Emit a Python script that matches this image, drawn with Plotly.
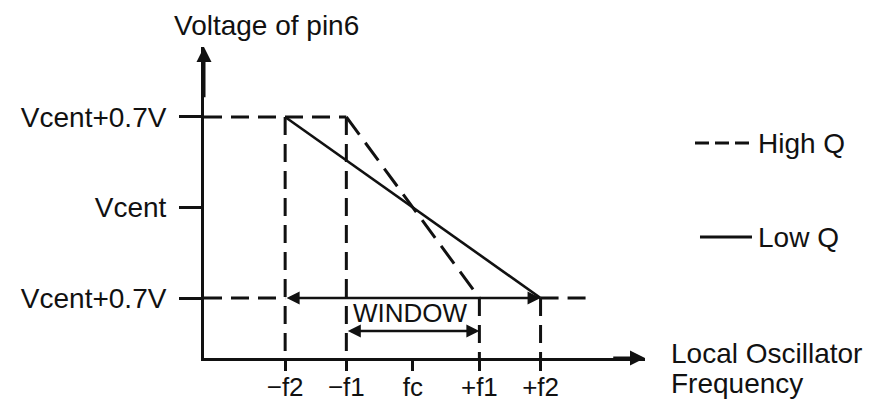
import plotly.graph_objects as go

# Frequency axis: positions of the marked frequencies (fc at 0, f1 as unit)
freq_ticks = [-1.92, -1.0, 0.0, 1.0, 1.92]
freq_labels = ["−f2", "−f1", "fc", "+f1", "+f2"]

# Voltage axis: pin 6 voltage relative to Vcent
volt_ticks = [0.7, 0.0, -0.7]
volt_labels = ["Vcent+0.7V", "Vcent", "Vcent+0.7V"]

# Transfer characteristics
high_q_x = [-1.0, 1.0]
high_q_y = [0.7, -0.7]
low_q_x = [-1.92, 1.92]
low_q_y = [0.7, -0.7]

# Window edges (±f1) and capture range (±f2)
window_x = [-1.0, 1.0]
capture_x = [-1.92, 1.92]

x_range = [-3.14, 3.49]
y_range = [-1.164, 1.241]
guide_end_x = 2.69
window_y = -0.955

FONT = "Liberation Sans"
INK = "#111111"
DASH = "18px,9px"
TXT = 28

fig = go.Figure()


def seg(xs, ys, dash=None, width=3):
    fig.add_trace(go.Scatter(
        x=xs, y=ys, mode="lines", showlegend=False, hoverinfo="skip",
        line=dict(color=INK, width=width, dash=dash),
    ))


# Dashed level guides
seg([x_range[0], high_q_x[0]], [volt_ticks[0], volt_ticks[0]], DASH)
seg([x_range[0], capture_x[0]], [volt_ticks[2], volt_ticks[2]], DASH)
seg([capture_x[1], guide_end_x], [volt_ticks[2], volt_ticks[2]], DASH)

# Dashed frequency drop lines
for fx in (capture_x[0], window_x[0]):
    seg([fx, fx], [volt_ticks[0], y_range[0]], DASH)
for fx in (window_x[1], capture_x[1]):
    seg([fx, fx], [volt_ticks[2], y_range[0]], DASH)

# High Q (dashed) and Low Q (solid) slopes
seg(high_q_x, high_q_y, "22px,10px", 3)
seg(low_q_x, low_q_y, None, 2.6)

annotations = []

# Capture range arrow along the lower level
annotations.append(dict(
    x=capture_x[1], y=volt_ticks[2], ax=capture_x[0], ay=volt_ticks[2],
    xref="x", yref="y", axref="x", ayref="y", text="", showarrow=True,
    arrowhead=2, arrowside="end+start", arrowsize=1, arrowwidth=2.6,
    arrowcolor=INK,
))

# WINDOW arrow between ±f1
annotations.append(dict(
    x=window_x[1], y=window_y, ax=window_x[0], ay=window_y,
    xref="x", yref="y", axref="x", ayref="y", text="", showarrow=True,
    arrowhead=2, arrowside="end+start", arrowsize=1, arrowwidth=2.6,
    arrowcolor=INK,
))
annotations.append(dict(
    x=sum(window_x) / 2 - 0.04, y=-0.815, xref="x", yref="y", text="WINDOW",
    showarrow=False, font=dict(family=FONT, size=26, color=INK),
))

# Axis arrowheads
annotations.append(dict(
    x=x_range[1], y=y_range[0], ax=x_range[1] - 0.5, ay=y_range[0],
    xref="x", yref="y", axref="x", ayref="y", text="", showarrow=True,
    arrowhead=2, arrowsize=1, arrowwidth=3, arrowcolor=INK,
))
annotations.append(dict(
    x=x_range[0], y=y_range[1], ax=x_range[0], ay=y_range[1] - 0.4,
    xref="x", yref="y", axref="x", ayref="y", text="", showarrow=True,
    arrowhead=2, arrowsize=1, arrowwidth=3, arrowcolor=INK,
))

# Axis titles
annotations.append(dict(
    x=-0.0726, y=1.0707, xref="paper", yref="paper", xanchor="left",
    yanchor="middle", text="Voltage of pin6", showarrow=False,
    font=dict(family=FONT, size=TXT, color=INK),
))
for line_text, yp in (("Local Oscillator", 0.016), ("Frequency", -0.0804)):
    annotations.append(dict(
        x=1.0544, y=yp, xref="paper", yref="paper", xanchor="left",
        yanchor="middle", align="left", text=line_text,
        showarrow=False, font=dict(family=FONT, size=TXT, color=INK),
    ))

# Legend keys
shapes = []
legend_items = [("High Q", "14px,6px", 1.1134, 0.6913),
                ("Low Q", None, 1.1247, 0.389)]
for name, dash, x0, yk in legend_items:
    shapes.append(dict(
        type="line", xref="paper", yref="paper", x0=x0, x1=1.2426,
        y0=yk, y1=yk, line=dict(color=INK, width=3, dash=dash),
    ))
    annotations.append(dict(
        x=1.252, y=yk, xref="paper", yref="paper", xanchor="left",
        yanchor="middle", text=name, showarrow=False,
        font=dict(family=FONT, size=TXT, color=INK),
    ))

fig.update_layout(
    width=873, height=402,
    margin=dict(l=204, r=228, t=47, b=44, pad=0, autoexpand=False),
    paper_bgcolor="white", plot_bgcolor="white",
    showlegend=False,
    annotations=annotations,
    shapes=shapes,
    font=dict(family=FONT, size=TXT, color=INK),
    xaxis=dict(
        range=x_range, showgrid=False, zeroline=False, automargin=False,
        showline=True, linewidth=3, linecolor=INK,
        ticks="outside", ticklen=10, tickwidth=3, tickcolor=INK,
        tickvals=freq_ticks, ticktext=freq_labels,
        tickfont=dict(family=FONT, size=26, color=INK),
        ticklabelstandoff=-6,
    ),
    yaxis=dict(
        range=y_range, showgrid=False, zeroline=False, automargin=False,
        showline=True, linewidth=3, linecolor=INK,
        ticks="outside", ticklen=22, tickwidth=3, tickcolor=INK,
        tickvals=volt_ticks, ticktext=volt_labels,
        tickfont=dict(family=FONT, size=TXT, color=INK),
        ticklabelstandoff=7,
    ),
)

fig.write_html("out.html")
